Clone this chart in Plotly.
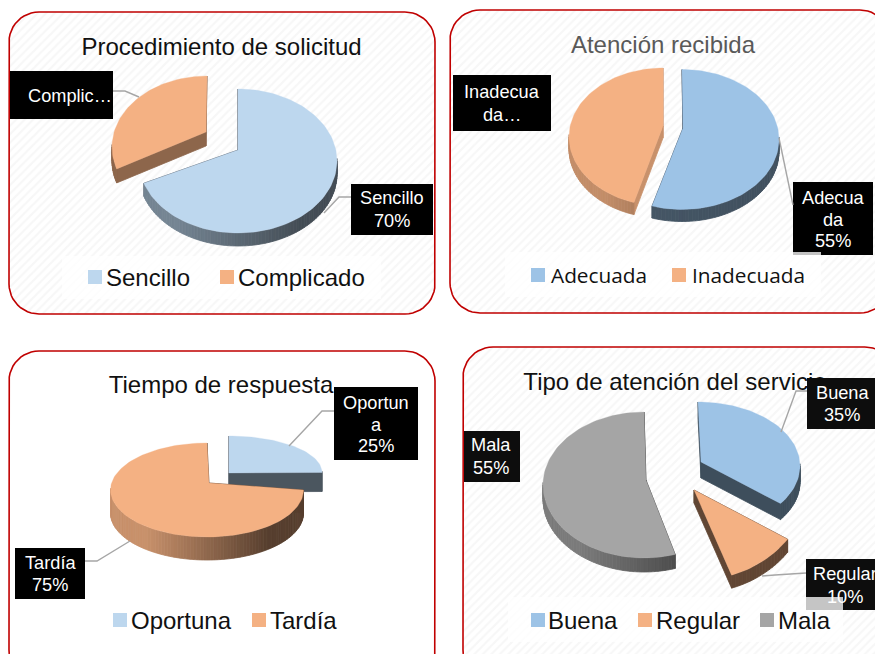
import math
import plotly.graph_objects as go

# ---- data ----
titles = ["Procedimiento de solicitud", "Atención recibida", "Tiempo de respuesta", "Tipo de atención del servicio"]
cats_1 = ["Sencillo", "Complicado"]
vals_1 = [70, 30]
cats_2 = ["Adecuada", "Inadecuada"]
vals_2 = [55, 45]
cats_3 = ["Oportuna", "Tardía"]
vals_3 = [25, 75]
cats_4 = ["Buena", "Regular", "Mala"]
vals_4 = [35, 10, 55]

ARIAL = "Liberation Sans, Arial, sans-serif"
OPEN = "Open Sans, sans-serif"
BLUE_L, BLUE, ORANGE, GREY = "#BDD7EE", "#9DC3E6", "#F4B183", "#A5A5A5"

# per-slice projection: ellipse centre, radii, apex, depth, cut-face shade
charts = [
    dict(title=titles[0], title_xy=(221.5, 49), title_color="#111111", title_size=24,
         panel=(9, 12, 435, 314), hatch=True,
         cats=cats_1, vals=vals_1, colors=[BLUE_L, ORANGE],
         geo=[dict(c=(238, 161), r=(99, 72), a=(238, 150), d=13, cut=.45, side=(.62, .36)),
              dict(c=(207, 147), r=(95, 71), a=(206, 132), d=14, cut=.58, side=(.58, .58))],
         legend_box=(62, 256, 381, 299), legend_font=(ARIAL, 24, "#111111"),
         legend_y=277, legend_sq=[88, 220], legend_tx=[104, 236]),
    dict(title=titles[1], title_xy=(663, 47), title_color="#595959", title_size=24,
         panel=(450, 10, 890, 313), hatch=True,
         cats=cats_2, vals=vals_2, colors=[BLUE, ORANGE],
         geo=[dict(c=(682, 139.5), r=(97, 70), a=(683, 128), d=12, cut=.42, side=(.45, .42)),
              dict(c=(663, 137), r=(94, 69), a=(663, 126), d=12, cut=.82, side=(.8, .5))],
         legend_box=(505, 252, 821, 297), legend_font=(OPEN, 20.8, "#111111"),
         legend_y=275, legend_sq=[531, 672], legend_tx=[549, 690]),
    dict(title=titles[2], title_xy=(221, 387), title_color="#111111", title_size=24,
         panel=(9, 351, 435, 680), hatch=False,
         cats=cats_3, vals=vals_3, colors=[BLUE_L, ORANGE],
         geo=[dict(c=(229, 472.5), r=(93, 36.5), a=(229, 473), d=19, cut=.4, side=(.4, .4)),
              dict(c=(207, 490), r=(96.5, 47), a=(209, 483), d=23, cut=.4, side=(.82, .36))],
         legend_box=None, legend_font=(ARIAL, 24, "#111111"),
         legend_y=620, legend_sq=[113, 252], legend_tx=[129, 268]),
    dict(title=titles[3], title_xy=(675, 384), title_color="#111111", title_size=24,
         panel=(463, 347, 895, 680), hatch=True,
         cats=cats_4, vals=vals_4, colors=[BLUE, ORANGE, GREY],
         geo=[dict(c=(698, 466), r=(102, 64), a=(701, 462), d=16, cut=.4, side=(.4, .4)),
              dict(c=(697, 481), r=(112, 99), a=(694, 490), d=13, cut=.4, side=(.4, .4)),
              dict(c=(644, 485), r=(101, 73), a=(646, 480), d=14, cut=.4, side=(.75, .38))],
         legend_box=(508, 597, 843, 642), legend_font=(ARIAL, 24, "#111111"),
         legend_y=620, legend_sq=[531, 638, 760], legend_tx=[546, 654, 776]),
]

labels = [
    ("Complic…", (10, 71, 113, 119), 70, [96], "#000000"),
    ("Sencillo<br>70%", (351, 184, 433, 235), 392, [198, 221], "#000000"),
    ("Inadecua<br>da…", (453, 75, 551, 131), 502, [92, 115], "#000000"),
    ("Adecua<br>da<br>55%", (793, 182, 873, 255), 833, [198, 220, 241], "#000000"),
    ("Oportun<br>a<br>25%", (334, 387, 418, 460), 376, [403, 425, 446], "#000000"),
    ("Tardía<br>75%", (15, 548, 85, 599), 50, [563, 585], "#000000"),
    ("Buena<br>35%", (807, 378, 890, 429), 842, [393, 415], "#0D0D0D"),
    ("Mala<br>55%", (464, 431, 520, 482), 491, [445, 468], "#0D0D0D"),
    ("Regular<br>10%", (806, 559, 890, 610), 845, [574, 597], "#0D0D0D"),
]

leaders = [
    [(113, 91), (125, 91), (139, 97)],
    [(351, 197), (339, 197), (324, 213)],
    [(779, 138), (793, 205)],
    [(334, 411), (322, 411), (289, 446)],
    [(85, 561), (97, 561), (130, 541)],
    [(807, 391), (796, 391), (781, 432)],
    [(806, 573), (775, 575), (762, 576)],
]


def shade(hex_color, k):
    r, g, b = (int(hex_color[i:i + 2], 16) for i in (1, 3, 5))
    return f"rgb({int(r * k)},{int(g * k)},{int(b * k)})"


def rim(g, deg):
    t = math.radians(deg)
    return (g["c"][0] + g["r"][0] * math.sin(t), g["c"][1] - g["r"][1] * math.cos(t))


def rounded_rect(x0, y0, x1, y1, rad=30):
    xs, ys = [], []
    corners = [(x1 - rad, y0 + rad, -90), (x1 - rad, y1 - rad, 0), (x0 + rad, y1 - rad, 90), (x0 + rad, y0 + rad, 180)]
    for cx, cy, start in corners:
        for k in range(13):
            t = math.radians(start + k * 7.5)
            xs.append(cx + rad * math.cos(t))
            ys.append(cy + rad * math.sin(t))
    return xs + xs[:1], ys + ys[:1]


fig = go.Figure()


def poly(xs, ys, color, name=None, width=0.8):
    fig.add_trace(go.Scatter(x=xs, y=ys, mode="lines", fill="toself", fillcolor=color,
                             line=dict(color=color, width=width), hoverinfo="skip" if name is None else "text",
                             text=name, showlegend=False))


# panels
for ch in charts:
    x0, y0, x1, y1 = ch["panel"]
    xs, ys = rounded_rect(x0, y0, x1, y1)
    kw = dict(fillpattern=dict(shape="/", size=6, solidity=0.35, fgcolor="#EFEFEF", bgcolor="#FFFFFF")) if ch["hatch"] else dict(fillcolor="#FFFFFF")
    fig.add_trace(go.Scatter(x=xs, y=ys, mode="lines", fill="toself", line=dict(color="#C00000", width=1.6),
                             hoverinfo="skip", showlegend=False, **kw))

# pies: angles come from the values
for ch in charts:
    total = sum(ch["vals"])
    start = 0.0
    slices = []
    for cat, val, col, g in zip(ch["cats"], ch["vals"], ch["colors"], ch["geo"]):
        end = start + 360 * val / total
        slices.append((cat, val, col, g, start, end))
        start = end
    for cat, val, col, g, a0, a1 in slices:
        d = g["d"]
        ax, ay = g["a"]
        # cut faces
        for ang in (a0, a1):
            px, py = rim(g, ang)
            poly([ax, px, px, ax, ax], [ay, py, py + d, ay + d, ay], shade(col, g["cut"]))
        # rim band, shaded left to right
        n = max(10, int((a1 - a0) / 2))
        for i in range(n):
            u0, u1 = a0 + (a1 - a0) * i / n, a0 + (a1 - a0) * (i + 1) / n
            if math.cos(math.radians((u0 + u1) / 2)) > 0.05:
                continue
            p, q = rim(g, u0), rim(g, u1)
            f = (g["c"][0] + g["r"][0] - (p[0] + q[0]) / 2) / (2 * g["r"][0])  # 1 at left, 0 at right
            k = g["side"][1] + (g["side"][0] - g["side"][1]) * min(1, max(0, f * 1.6 - .3))
            poly([p[0], q[0], q[0], p[0], p[0]], [p[1], q[1], q[1] + d, p[1] + d, p[1]], shade(col, k))
        # top face
        m = max(12, int((a1 - a0) / 2))
        pts = [rim(g, a0 + (a1 - a0) * i / m) for i in range(m + 1)]
        poly([ax] + [p[0] for p in pts] + [ax], [ay] + [p[1] for p in pts] + [ay], col,
             name=f"{cat}: {val}%", width=0.3)
    tx, ty = ch["title_xy"]
    fig.add_trace(go.Scatter(x=[tx], y=[ty], mode="text", text=[ch["title"]], showlegend=False,
                             hoverinfo="skip", textposition="middle center", cliponaxis=False,
                             textfont=dict(family=ARIAL, size=ch["title_size"], color=ch["title_color"])))

shapes, annos = [], []
for _, (x0, y0, x1, y1), _, _, fill in labels:
    shapes.append(dict(type="rect", x0=x0, y0=y0, x1=x1, y1=y1, fillcolor=fill, line_width=0, layer="above"))
for pts in leaders:
    path = "M " + " L ".join(f"{x},{y}" for x, y in pts)
    shapes.append(dict(type="path", path=path, line=dict(color="#A6A6A6", width=1.4), layer="above"))

for ch in charts:
    if ch["legend_box"]:
        x0, y0, x1, y1 = ch["legend_box"]
        shapes.append(dict(type="rect", x0=x0, y0=y0, x1=x1, y1=y1, fillcolor="rgba(255,255,255,0.76)", line_width=0, layer="above"))
    fam, size, color = ch["legend_font"]
    ly = ch["legend_y"]
    for sq, tx, cat, col in zip(ch["legend_sq"], ch["legend_tx"], ch["cats"], ch["colors"]):
        shapes.append(dict(type="rect", x0=sq, y0=ly - 7, x1=sq + 14, y1=ly + 7, fillcolor=col, line_width=0, layer="above"))
        annos.append(dict(x=tx, y=ly, text=cat, showarrow=False, xanchor="left", yanchor="middle",
                          font=dict(family=fam, size=size, color=color)))

for text, box, cx, ys_, _ in labels:
    for line, y in zip(text.split("<br>"), ys_):
        annos.append(dict(x=cx, y=y, text=line, showarrow=False, xanchor="center", yanchor="middle",
                          font=dict(family=ARIAL, size=18.2, color="#FFFFFF")))

fig.update_layout(
    width=875, height=654, margin=dict(l=0, r=0, t=0, b=0), paper_bgcolor="#FFFFFF", plot_bgcolor="#FFFFFF",
    xaxis=dict(range=[0, 875], visible=False, fixedrange=True),
    yaxis=dict(range=[654, 0], visible=False, fixedrange=True),
    shapes=shapes, annotations=annos, showlegend=False,
)

fig.write_html("out.html", config=dict(displayModeBar=False), post_script="document.body.style.margin='0';")
